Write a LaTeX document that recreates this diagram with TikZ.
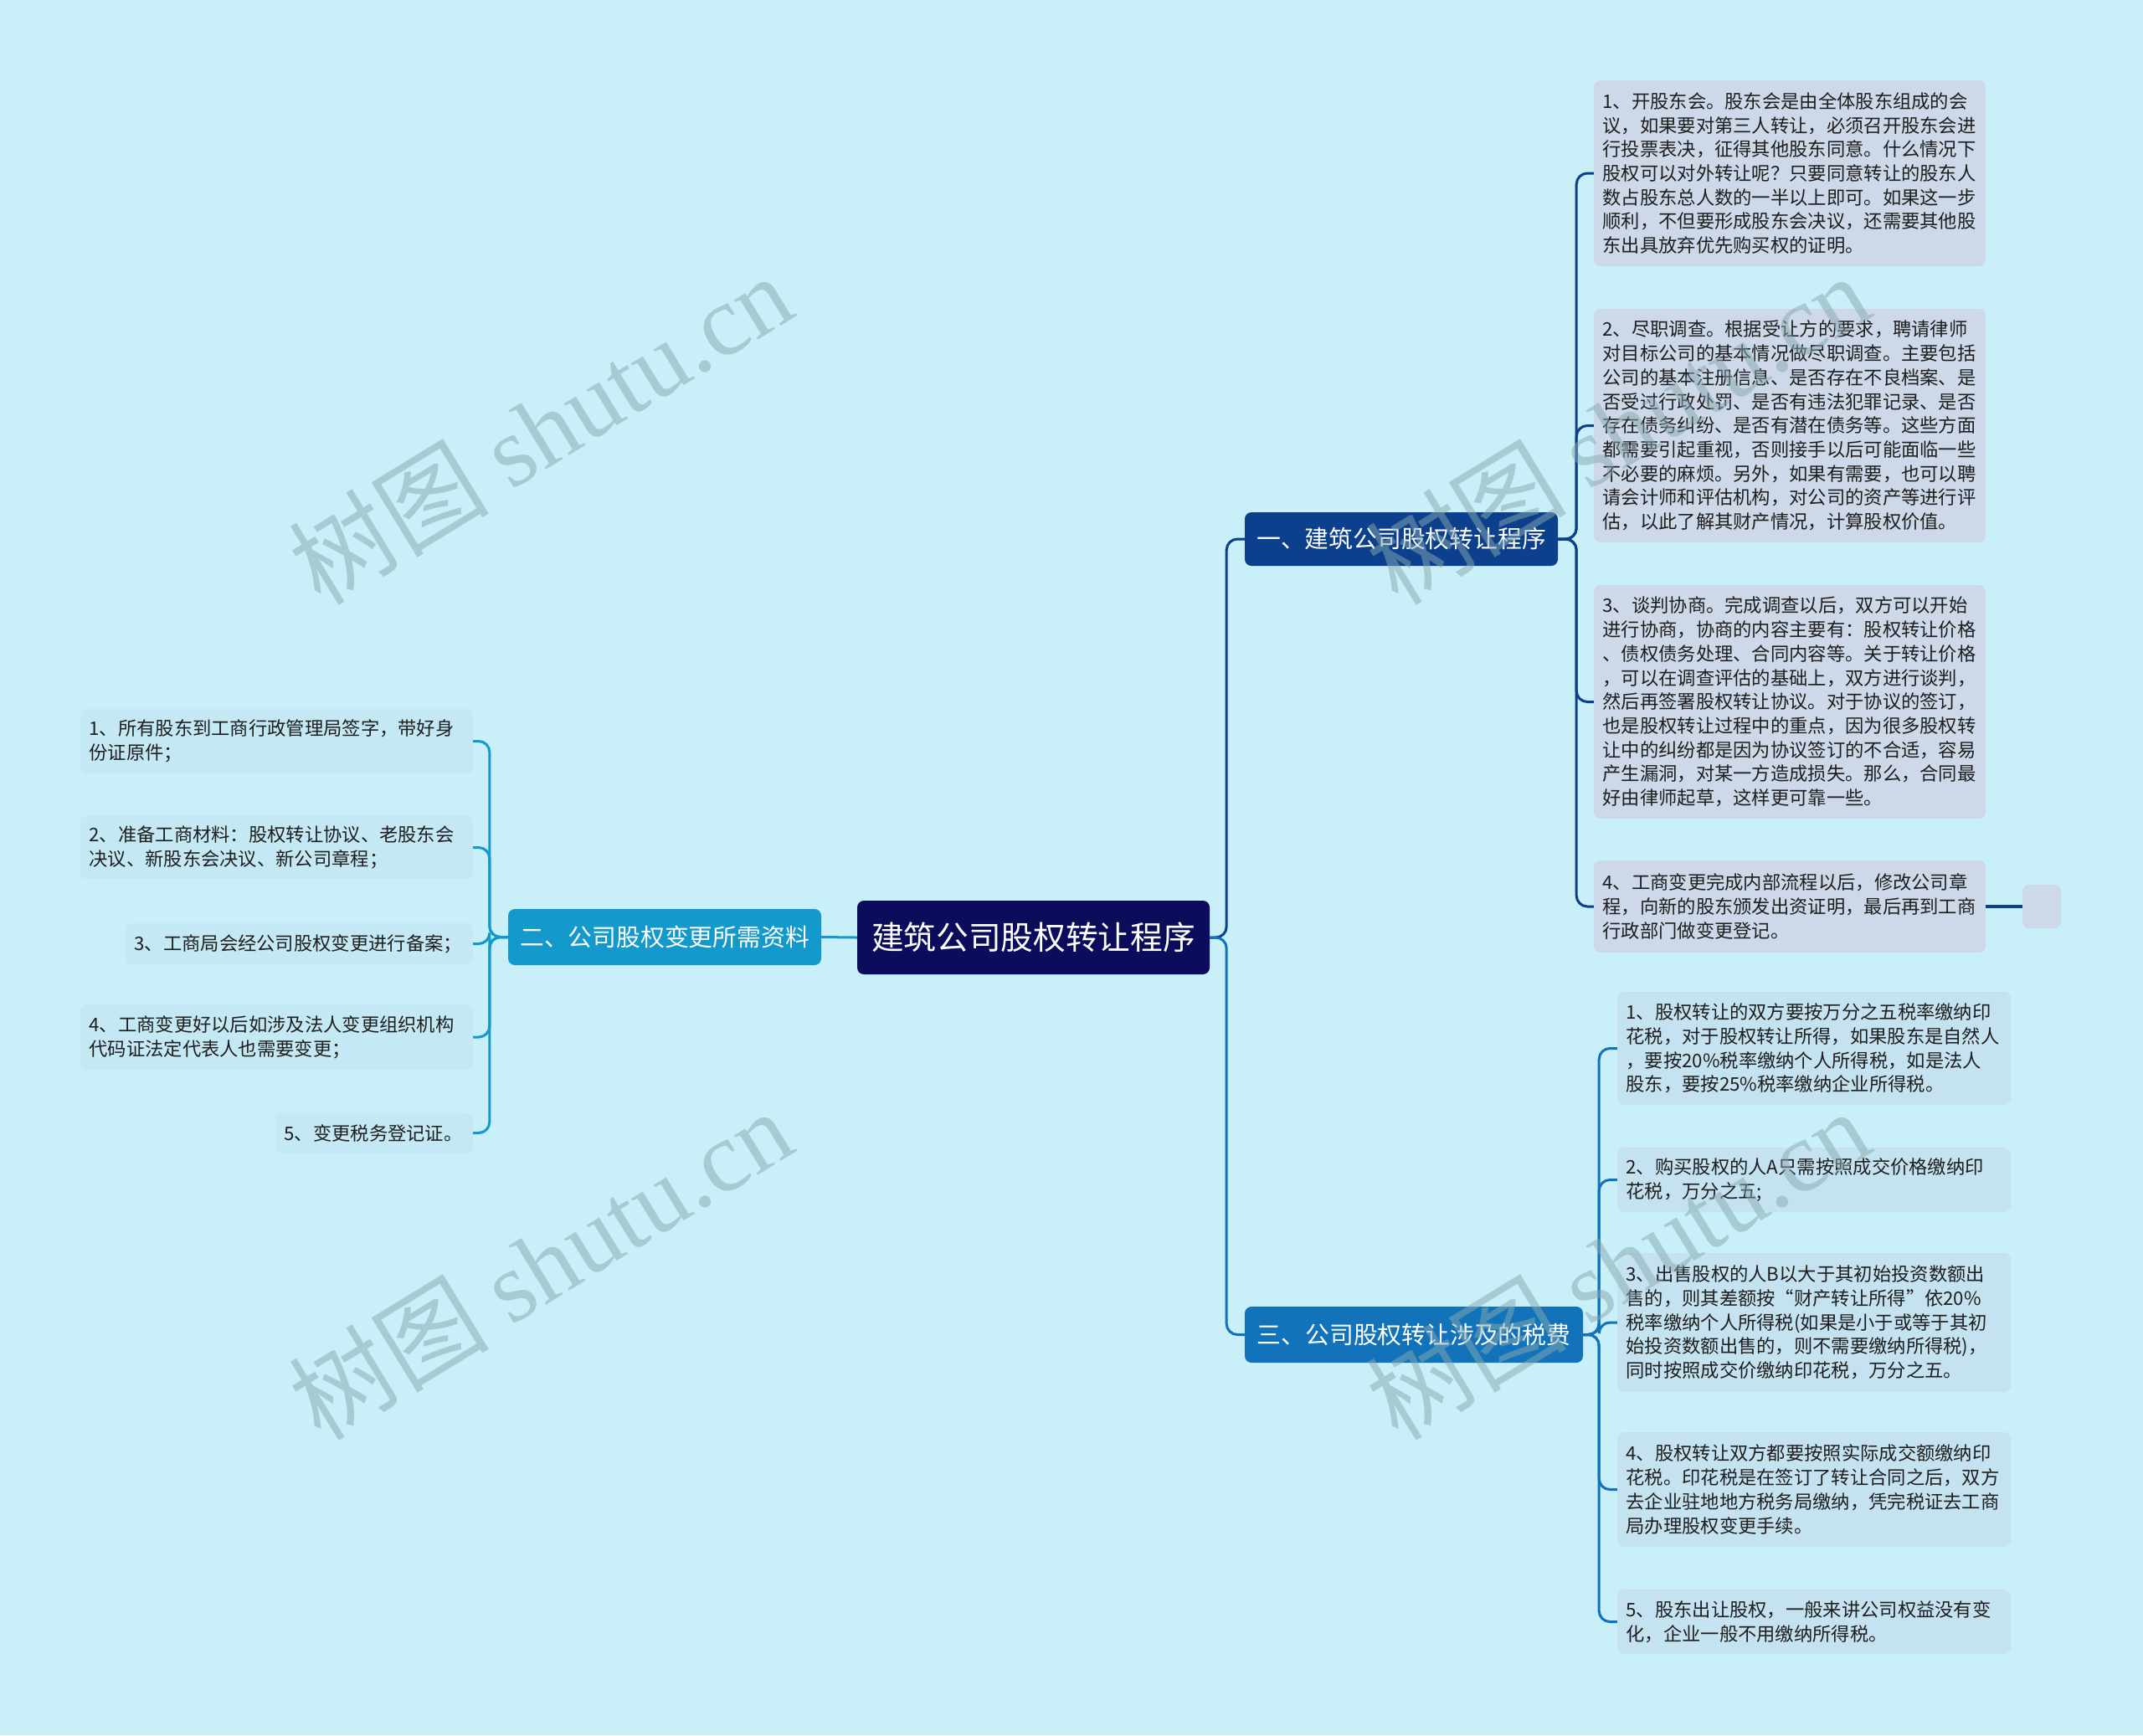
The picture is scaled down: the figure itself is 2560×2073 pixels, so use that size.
\documentclass[tikz,border=0pt]{standalone}
\usepackage{fontspec}
\setmainfont{Noto Sans CJK SC}
\newfontfamily\wmlatin{Liberation Serif}
\newfontfamily\wmcjk{Noto Sans CJK SC}
\definecolor{bgc}{RGB}{201,239,248}
\definecolor{rootc}{RGB}{11,12,92}
\definecolor{bonec}{RGB}{12,63,140}
\definecolor{btwoc}{RGB}{20,153,204}
\definecolor{bthreec}{RGB}{18,115,186}
\definecolor{leafone}{RGB}{205,216,232}
\definecolor{leafthree}{RGB}{197,226,240}
\definecolor{leaftwo}{RGB}{196,233,245}
\definecolor{txt}{RGB}{30,30,30}
\definecolor{wmc}{RGB}{135,169,176}
\begin{document}
\begin{tikzpicture}[x=1pt,y=-1pt,
  leaf/.style={rounded corners=8pt, text=txt, align=left, inner xsep=10.5pt, inner ysep=6pt, font=\fontsize{22.3}{28.7}\selectfont},
  leafA/.style={leaf, fill=leafone},
  leafB/.style={leaf, fill=leaftwo},
  leafC/.style={leaf, fill=leafthree},
  rootbox/.style={rounded corners=8pt, fill=rootc, text=white, inner sep=0pt, font=\fontsize{38.7}{46}\selectfont},
  branchbox/.style={rounded corners=8pt, text=white, inner sep=0pt, font=\fontsize{28.8}{34}\selectfont},
  conA/.style={draw=bonec, line width=3pt, rounded corners=13pt},
  conB/.style={draw=btwoc, line width=3pt, rounded corners=13pt},
  conC/.style={draw=bthreec, line width=3pt, rounded corners=13pt},
  wmark/.style={text=wmc, text opacity=0.5, rotate=31.5, inner sep=0pt}
]
\fill[bgc] (0,0) rectangle (2560,2073);
\useasboundingbox (0,0) rectangle (2560,2073);

% root and branches
\node[rootbox, minimum width=421pt, minimum height=88pt] (root) at (1234.5,1120) {建筑公司股权转让程序};
\node[branchbox, fill=bonec, minimum width=374pt, minimum height=64pt] (b1) at (1674,644) {一、建筑公司股权转让程序};
\node[branchbox, fill=btwoc, minimum width=374pt, minimum height=67pt] (b2) at (794,1119.5) {二、公司股权变更所需资料};
\node[branchbox, fill=bthreec, minimum width=404pt, minimum height=67pt] (b3) at (1689,1594.5) {三、公司股权转让涉及的税费};

% branch 1 leaves
\node[leafA, minimum width=468pt, minimum height=222pt, text width=447pt] (l11) at (2138,207) {1、开股东会。股东会是由全体股东组成的会\\议，如果要对第三人转让，必须召开股东会进\\行投票表决，征得其他股东同意。什么情况下\\股权可以对外转让呢？只要同意转让的股东人\\数占股东总人数的一半以上即可。如果这一步\\顺利，不但要形成股东会决议，还需要其他股\\东出具放弃优先购买权的证明。};
\node[leafA, minimum width=468pt, minimum height=279pt, text width=447pt] (l12) at (2138,508.5) {2、尽职调查。根据受让方的要求，聘请律师\\对目标公司的基本情况做尽职调查。主要包括\\公司的基本注册信息、是否存在不良档案、是\\否受过行政处罚、是否有违法犯罪记录、是否\\存在债务纠纷、是否有潜在债务等。这些方面\\都需要引起重视，否则接手以后可能面临一些\\不必要的麻烦。另外，如果有需要，也可以聘\\请会计师和评估机构，对公司的资产等进行评\\估，以此了解其财产情况，计算股权价值。};
\node[leafA, minimum width=468pt, minimum height=279pt, text width=447pt] (l13) at (2138,838.5) {3、谈判协商。完成调查以后，双方可以开始\\进行协商，协商的内容主要有：股权转让价格\\、债权债务处理、合同内容等。关于转让价格\\，可以在调查评估的基础上，双方进行谈判，\\然后再签署股权转让协议。对于协议的签订，\\也是股权转让过程中的重点，因为很多股权转\\让中的纠纷都是因为协议签订的不合适，容易\\产生漏洞，对某一方造成损失。那么，合同最\\好由律师起草，这样更可靠一些。};
\node[leafA, minimum width=468pt, minimum height=110pt, text width=447pt] (l14) at (2138,1083) {4、工商变更完成内部流程以后，修改公司章\\程，向新的股东颁发出资证明，最后再到工商\\行政部门做变更登记。};
\node[rounded corners=8pt, fill=leafone, minimum width=46pt, minimum height=52pt, inner sep=0pt] (e14) at (2439,1083) {};

% branch 3 leaves
\node[leafC, minimum width=470pt, minimum height=135pt, text width=449pt] (l31) at (2167,1252.5) {1、股权转让的双方要按万分之五税率缴纳印\\花税，对于股权转让所得，如果股东是自然人\\，要按20\%税率缴纳个人所得税，如是法人\\股东，要按25\%税率缴纳企业所得税。};
\node[leafC, minimum width=470pt, minimum height=77pt, text width=449pt] (l32) at (2167,1409.5) {2、购买股权的人A只需按照成交价格缴纳印\\花税，万分之五;};
\node[leafC, minimum width=470pt, minimum height=166pt, text width=449pt] (l33) at (2167,1580) {3、出售股权的人B以大于其初始投资数额出\\售的，则其差额按“财产转让所得”依20\%\\税率缴纳个人所得税(如果是小于或等于其初\\始投资数额出售的，则不需要缴纳所得税)，\\同时按照成交价缴纳印花税，万分之五。};
\node[leafC, minimum width=470pt, minimum height=137pt, text width=449pt] (l34) at (2167,1779.5) {4、股权转让双方都要按照实际成交额缴纳印\\花税。印花税是在签订了转让合同之后，双方\\去企业驻地地方税务局缴纳，凭完税证去工商\\局办理股权变更手续。};
\node[leafC, minimum width=470pt, minimum height=77pt, text width=449pt] (l35) at (2167,1937.5) {5、股东出让股权，一般来讲公司权益没有变\\化，企业一般不用缴纳所得税。};

% branch 2 leaves
\node[leafB, minimum width=469pt, minimum height=77pt, text width=448pt] (l21) at (330.5,885.5) {1、所有股东到工商行政管理局签字，带好身\\份证原件；};
\node[leafB, minimum width=469pt, minimum height=76pt, text width=448pt] (l22) at (330.5,1012.5) {2、准备工商材料：股权转让协议、老股东会\\决议、新股东会决议、新公司章程；};
\node[leafB, minimum width=415pt, minimum height=49pt, text width=394pt] (l23) at (357.5,1127.5) {3、工商局会经公司股权变更进行备案；};
\node[leafB, minimum width=469pt, minimum height=78pt, text width=448pt] (l24) at (330.5,1239) {4、工商变更好以后如涉及法人变更组织机构\\代码证法定代表人也需要变更；};
\node[leafB, minimum width=236pt, minimum height=49pt, text width=215pt] (l25) at (447,1353.5) {5、变更税务登记证。};

% connectors root -> branches
\draw[conA] (root.east) -- ++(20,0) |- (b1.west);
\draw[conC] (root.east) -- ++(20,0) |- (b3.west);
\draw[conB] (root.west) -- (b2.east);

% branch 1 -> leaves
\foreach \n in {l11,l12,l13,l14} {
  \draw[conA] (b1.east) -- ++(22,0) |- (\n.west);
}
\draw[draw=bonec, line width=4.5pt] (l14.east) -- (e14.west);

% branch 3 -> leaves
\foreach \n in {l31,l32,l33,l34,l35} {
  \draw[conC] (b3.east) -- ++(19,0) |- (\n.west);
}

% branch 2 -> leaves
\foreach \n in {l21,l22,l23,l24,l25} {
  \draw[conB] (b2.west) -- ++(-22,0) |- (\n.east);
}

% watermarks
\node[wmark] (wm1) at (645,512) {\fontsize{120}{125}\selectfont\wmcjk 树图 \wmlatin shutu.cn};
\node[wmark] (wm2) at (645,1510) {\fontsize{120}{125}\selectfont\wmcjk 树图 \wmlatin shutu.cn};
\node[wmark] (wm3) at (1932,512) {\fontsize{120}{125}\selectfont\wmcjk 树图 \wmlatin shutu.cn};
\node[wmark] (wm4) at (1932,1510) {\fontsize{120}{125}\selectfont\wmcjk 树图 \wmlatin shutu.cn};
\end{tikzpicture}
\end{document}
